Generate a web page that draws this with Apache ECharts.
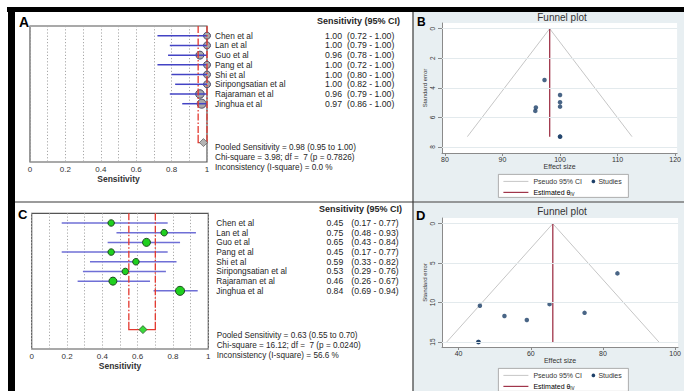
<!DOCTYPE html>
<html>
<head>
<meta charset="utf-8">
<script src="https://cdn.jsdelivr.net/npm/echarts@6/dist/echarts.min.js"></script>
<style>
  html, body { margin: 0; padding: 0; background: #fff; }
  #wrap { position: relative; width: 684px; height: 391px; overflow: hidden; }
  #stataBg { position: absolute; left: 413px; top: 12px; width: 271px; height: 379px; background: #e8eff2; }
  #chart { position: absolute; left: 0; top: 0; width: 684px; height: 391px; }
</style>
</head>
<body>
<div id="wrap"><div id="stataBg"></div><div id="chart"></div></div>
<script>
// ---- Studies ----
const studies = ['Chen et al', 'Lan et al', 'Guo et al', 'Pang et al', 'Shi et al',
  'Siripongsatian et al', 'Rajaraman et al', 'Jinghua et al'];

// ---- Forest plot A: sensitivity with 95% CI ----
const sensA = [1.00, 1.00, 0.96, 1.00, 1.00, 1.00, 0.96, 0.97];
const lowA  = [0.72, 0.79, 0.78, 0.72, 0.80, 0.82, 0.79, 0.86];
const highA = [1.00, 1.00, 1.00, 1.00, 1.00, 1.00, 1.00, 1.00];
const pooledA = [0.98, 0.95, 1.00];   // estimate, lower, upper
const statsA = [
  'Pooled Sensitivity = 0.98 (0.95 to 1.00)',
  'Chi-square = 3.98; df =  7 (p = 0.7826)',
  'Inconsistency (I-square) = 0.0 %'
];

// ---- Forest plot C: sensitivity with 95% CI ----
const sensC = [0.45, 0.75, 0.65, 0.45, 0.59, 0.53, 0.46, 0.84];
const lowC  = [0.17, 0.48, 0.43, 0.17, 0.33, 0.29, 0.26, 0.69];
const highC = [0.77, 0.93, 0.84, 0.77, 0.82, 0.76, 0.67, 0.94];
const pooledC = [0.63, 0.55, 0.70];
const statsC = [
  'Pooled Sensitivity = 0.63 (0.55 to 0.70)',
  'Chi-square = 16.12; df =  7 (p = 0.0240)',
  'Inconsistency (I-square) = 56.6 %'
];
const forestTicks = [0, 0.2, 0.4, 0.6, 0.8, 1];

// ---- Funnel plot B ----
const effectB = [100, 100, 95.7, 100, 100, 100, 95.8, 97.3];
const seB     = [7.3, 5.27, 5.56, 7.3, 4.97, 4.48, 5.33, 3.47];
const thetaB = 98.2;
const pseudoCiB = [83.9, 112.5];
const seMaxB = 7.3;
const xTicksB = [80, 90, 100, 110, 120];
const yTicksB = [0, 2, 4, 6, 8];

// ---- Funnel plot D ----
const effectD = [45.5, 74.9, 65.2, 45.5, 58.9, 52.7, 45.9, 84.0];
const seD     = [15.0, 11.3, 10.2, 15.0, 12.2, 11.7, 10.4, 6.3];
const thetaD = 66.1;
const pseudoCiD = [36.7, 95.5];
const seMaxD = 15.0;
const xTicksD = [40, 60, 80, 100];
const yTicksD = [0, 5, 10, 15];

// ---- styling ----
const FONT = '"Liberation Sans", Arial, sans-serif';
const POOLED_ROW = 12;
const sizesA = [7, 7, 8, 7, 7, 7, 8.5, 9];
const sizesC = [6.5, 6.5, 8, 6.5, 6.5, 6.5, 8, 9];

const chart = echarts.init(document.getElementById('chart'), null, { renderer: 'svg' });

function forestX(idx) {
  return {
    gridIndex: idx, type: 'value', min: 0, max: 1, interval: 0.1,
    axisLine: { show: false }, axisTick: { show: false },
    axisLabel: {
      fontSize: 8, color: '#333', margin: 3, fontFamily: FONT,
      formatter: v => {
        const t = forestTicks.find(k => Math.abs(k - v) < 1e-6);
        return t === undefined ? '' : String(t);
      }
    },
    splitLine: { show: true, lineStyle: { color: '#a8a8a8', type: [1.2, 2], width: 1 } },
    name: 'Sensitivity', nameLocation: 'middle', nameGap: 12,
    nameTextStyle: { fontSize: 8.5, fontWeight: 'bold', color: '#333', fontFamily: FONT }
  };
}
function forestY(idx) {
  return { gridIndex: idx, type: 'value', min: 0, max: 14, inverse: true, show: false };
}

function studySeries(idx, sens, low, high, sizes, lineColor, fill, stroke, lineOnTop) {
  return {
    type: 'custom', xAxisIndex: idx, yAxisIndex: idx, silent: true, clip: false,
    data: studies.map((s, i) => [sens[i], low[i], high[i], i + 1]),
    encode: { x: [0, 1, 2], y: 3 },
    renderItem: (params, api) => {
      const row = api.value(3);
      const p = api.coord([api.value(0), row]);
      const a = api.coord([api.value(1), row]);
      const b = api.coord([api.value(2), row]);
      const line = { type: 'line', shape: { x1: a[0], y1: a[1], x2: b[0], y2: b[1] },
        style: { stroke: lineColor, lineWidth: 1.5 } };
      const dot = { type: 'circle', shape: { cx: p[0], cy: p[1], r: sizes[params.dataIndex] / 2 },
        style: { fill: fill, stroke: stroke, lineWidth: 1 } };
      return { type: 'group', children: lineOnTop ? [dot, line] : [line, dot] };
    }
  };
}

function pooledSeries(idx, pooled, fill, stroke) {
  return {
    type: 'custom', xAxisIndex: idx, yAxisIndex: idx, silent: true, clip: false,
    data: [[pooled[0], pooled[1], pooled[2], POOLED_ROW]],
    encode: { x: [0, 1, 2], y: 3 },
    renderItem: (params, api) => {
      const row = api.value(3);
      const c = api.coord([api.value(0), row]);
      const lo = api.coord([api.value(1), row]);
      const hi = api.coord([api.value(2), row]);
      const top = api.coord([api.value(1), 0])[1];
      const split = api.coord([api.value(1), row - 0.8])[1];
      const red = '#e4382f';
      const dash = { stroke: red, lineWidth: 1.3, lineDash: [7, 2, 1.5, 2], fill: null };
      const d = 4;
      return { type: 'group', children: [
        { type: 'line', shape: { x1: lo[0], y1: top, x2: lo[0], y2: split }, style: dash },
        { type: 'line', shape: { x1: hi[0], y1: top, x2: hi[0], y2: split }, style: dash },
        { type: 'polyline', shape: { points: [[lo[0], split], [lo[0], lo[1]], [hi[0], hi[1]], [hi[0], split]] },
          style: { stroke: red, lineWidth: 1.3, fill: null } },
        { type: 'polygon', shape: { points: [[c[0], c[1] - d], [c[0] + d, c[1]], [c[0], c[1] + d], [c[0] - d, c[1]]] },
          style: { fill: fill, stroke: stroke, lineWidth: 0.8 } }
      ] };
    }
  };
}

function labelSeries(idx, sens, low, high, ciOffset) {
  return {
    type: 'custom', xAxisIndex: idx, yAxisIndex: idx, silent: true, clip: false,
    data: studies.map((s, i) => [1, i + 1]),
    encode: { x: 0, y: 1 },
    renderItem: (params, api) => {
      const i = params.dataIndex;
      const p = api.coord([api.value(0), api.value(1)]);
      const base = { fill: '#262626', textVerticalAlign: 'middle', verticalAlign: 'middle' };
      const nameFont = '8.3px ' + FONT;
      const numFont = '8.7px ' + FONT;
      return { type: 'group', children: [
        { type: 'text', style: Object.assign({}, base, { font: nameFont, text: studies[i], x: p[0] + 8, y: p[1], textAlign: 'left', align: 'left' }) },
        { type: 'text', style: Object.assign({}, base, { font: numFont, text: sens[i].toFixed(2), x: p[0] + 135, y: p[1], textAlign: 'right', align: 'right' }) },
        { type: 'text', style: Object.assign({}, base, { font: numFont, text: '(' + low[i].toFixed(2) + ' - ' + high[i].toFixed(2) + ')', x: p[0] + ciOffset, y: p[1], textAlign: 'left', align: 'left' }) }
      ] };
    }
  };
}

function funnelX(idx, min, max, ticks) {
  return {
    gridIndex: idx, type: 'value', min: min, max: max,
    axisLine: { show: true, onZero: false, lineStyle: { color: '#8a8a8a', width: 1 } },
    axisTick: { show: true, length: 3, customValues: ticks, lineStyle: { color: '#8a8a8a' } },
    axisLabel: { customValues: ticks, fontSize: 7, color: '#333', margin: 2.5, fontFamily: FONT },
    splitLine: { show: false },
    name: 'Effect size', nameLocation: 'middle', nameGap: 10,
    nameTextStyle: { fontSize: 7, color: '#333', fontFamily: FONT }
  };
}
function funnelY(idx, min, max, ticks) {
  return {
    gridIndex: idx, type: 'value', min: min, max: max, inverse: true,
    axisLine: { show: true, onZero: false, lineStyle: { color: '#8a8a8a', width: 1 } },
    axisTick: { show: true, length: 4, customValues: ticks, lineStyle: { color: '#8a8a8a' } },
    axisLabel: { customValues: ticks, fontSize: 6.5, color: '#333', margin: 6, rotate: 90, fontFamily: FONT },
    splitLine: { show: false },
    name: 'Standard error', nameLocation: 'middle', nameGap: 13, nameRotate: 90,
    nameTextStyle: { fontSize: 6, color: '#333', fontFamily: FONT }
  };
}
function funnelSeries(idx, effect, se, theta, ci, seMax, yTicks) {
  return [
    { type: 'line', xAxisIndex: idx, yAxisIndex: idx, silent: true, z: 1, symbol: 'none',
      data: [[ci[0], seMax], [theta, 0], [ci[1], seMax]],
      lineStyle: { color: '#c6c6c6', width: 1 },
      markLine: { silent: true, symbol: ['none', 'none'], label: { show: false },
        lineStyle: { color: '#e3eaed', type: 'solid', width: 1 },
        data: yTicks.map(v => ({ yAxis: v })) } },
    { type: 'line', xAxisIndex: idx, yAxisIndex: idx, silent: true, z: 2, symbol: 'none',
      data: [[theta, 0], [theta, seMax]],
      lineStyle: { color: '#a0354a', width: 1.3 } },
    { type: 'scatter', xAxisIndex: idx, yAxisIndex: idx, silent: true, z: 3,
      data: effect.map((e, i) => [e, se[i]]), symbolSize: 4.5,
      itemStyle: { color: '#1c3f68' } }
  ];
}

function legendGroup(x, y) {
  const t = { font: '7px ' + FONT, fill: '#333', textVerticalAlign: 'middle' };
  return {
    type: 'group', left: x, top: y, z: 50,
    children: [
      { type: 'rect', shape: { x: 0, y: 0, width: 130, height: 23 }, style: { fill: '#fff', stroke: '#9a9a9a', lineWidth: 0.8 } },
      { type: 'line', shape: { x1: 5, y1: 7, x2: 30, y2: 7 }, style: { stroke: '#c6c6c6', lineWidth: 1 } },
      { type: 'text', style: Object.assign({}, t, { text: 'Pseudo 95% CI', x: 35, y: 7 }) },
      { type: 'circle', shape: { cx: 95, cy: 7, r: 1.8 }, style: { fill: '#1c3f68' } },
      { type: 'text', style: Object.assign({}, t, { text: 'Studies', x: 100, y: 7 }) },
      { type: 'line', shape: { x1: 5, y1: 18, x2: 30, y2: 18 }, style: { stroke: '#a0354a', lineWidth: 1.2 } },
      { type: 'text', style: { x: 35, y: 18, textVerticalAlign: 'middle', text: '{a|Estimated θ}{b|IV}',
        rich: { a: { fontSize: 7, fontFamily: FONT, color: '#333' }, b: { fontSize: 4.5, fontFamily: FONT, color: '#333', padding: [4, 0, 0, 0] } } } }
    ]
  };
}

function textEl(text, x, y, font, align, fill) {
  return { type: 'text', z: 50, style: { text: text, x: x, y: y, font: font, fill: fill || '#262626',
    textAlign: align || 'left', textVerticalAlign: 'middle' } };
}

const graphics = [
  // frame and dividers
  { type: 'rect', z: 60, shape: { x: 7, y: 7, width: 677, height: 5 }, style: { fill: '#000' } },
  { type: 'rect', z: 60, shape: { x: 8, y: 7, width: 7, height: 384 }, style: { fill: '#000' } },
  { type: 'line', z: 60, shape: { x1: 15, y1: 202, x2: 684, y2: 202 }, style: { stroke: '#7a7a7a', lineWidth: 1.5 } },
  { type: 'line', z: 60, shape: { x1: 413, y1: 12, x2: 413, y2: 391 }, style: { stroke: '#3a3a3a', lineWidth: 1.2 } },
  // panel letters
  textEl('A', 19, 22, 'bold 14px ' + FONT, 'left', '#000'),
  textEl('C', 18, 214, 'bold 13px ' + FONT, 'left', '#000'),
  textEl('B', 417, 22, 'bold 12px ' + FONT, 'left', '#000'),
  textEl('D', 416, 215, 'bold 13px ' + FONT, 'left', '#000'),
  // forest headers
  textEl('Sensitivity (95% CI)', 317, 21, 'bold 9px ' + FONT),
  textEl('Sensitivity (95% CI)', 319, 209, 'bold 9px ' + FONT),
  // funnel titles
  textEl('Funnel plot', 562, 17, '10px ' + FONT, 'center', '#333'),
  textEl('Funnel plot', 562, 211, '10px ' + FONT, 'center', '#333'),
  legendGroup(498, 174),
  legendGroup(498, 368)
];
statsA.forEach((s, i) => graphics.push(textEl(s, 215, 147.3 + i * 10.2, '8.2px ' + FONT)));
statsC.forEach((s, i) => graphics.push(textEl(s, 216.7, 335.3 + i * 9.9, '8.2px ' + FONT)));

chart.setOption({
  animation: false,
  backgroundColor: 'transparent',
  grid: [
    { left: 30, top: 26, width: 177, height: 136, show: true, backgroundColor: '#fff', borderColor: '#555', borderWidth: 1.2 },
    { left: 31.7, top: 213.3, width: 176.6, height: 135.7, show: true, backgroundColor: '#fff', borderColor: '#555', borderWidth: 1.2 },
    { left: 442, top: 23, width: 242, height: 130, show: true, backgroundColor: '#fff', borderWidth: 0 },
    { left: 442, top: 218, width: 242, height: 129, show: true, backgroundColor: '#fff', borderWidth: 0 }
  ],
  xAxis: [
    forestX(0), forestX(1),
    funnelX(2, 79.49, 120.34, xTicksB),
    funnelX(3, 35.4, 100.8, xTicksD)
  ],
  yAxis: [
    forestY(0), forestY(1),
    funnelY(2, -0.385, 8.406, yTicksB),
    funnelY(3, -0.72, 15.63, yTicksD)
  ],
  series: [
    studySeries(0, sensA, lowA, highA, sizesA, '#4343c4', '#a8a8a8', '#4a4a66', true),
    pooledSeries(0, pooledA, '#b4b4b4', '#666'),
    labelSeries(0, sensA, lowA, highA, 140),
    studySeries(1, sensC, lowC, highC, sizesC, '#6f6fd6', '#1fd01f', '#1d4a1d', false),
    pooledSeries(1, pooledC, '#3ada3a', '#2a5a2a'),
    labelSeries(1, sensC, lowC, highC, 143)
  ].concat(
    funnelSeries(2, effectB, seB, thetaB, pseudoCiB, seMaxB, yTicksB),
    funnelSeries(3, effectD, seD, thetaD, pseudoCiD, seMaxD, yTicksD)
  ),
  graphic: graphics
});
</script>
</body>
</html>
